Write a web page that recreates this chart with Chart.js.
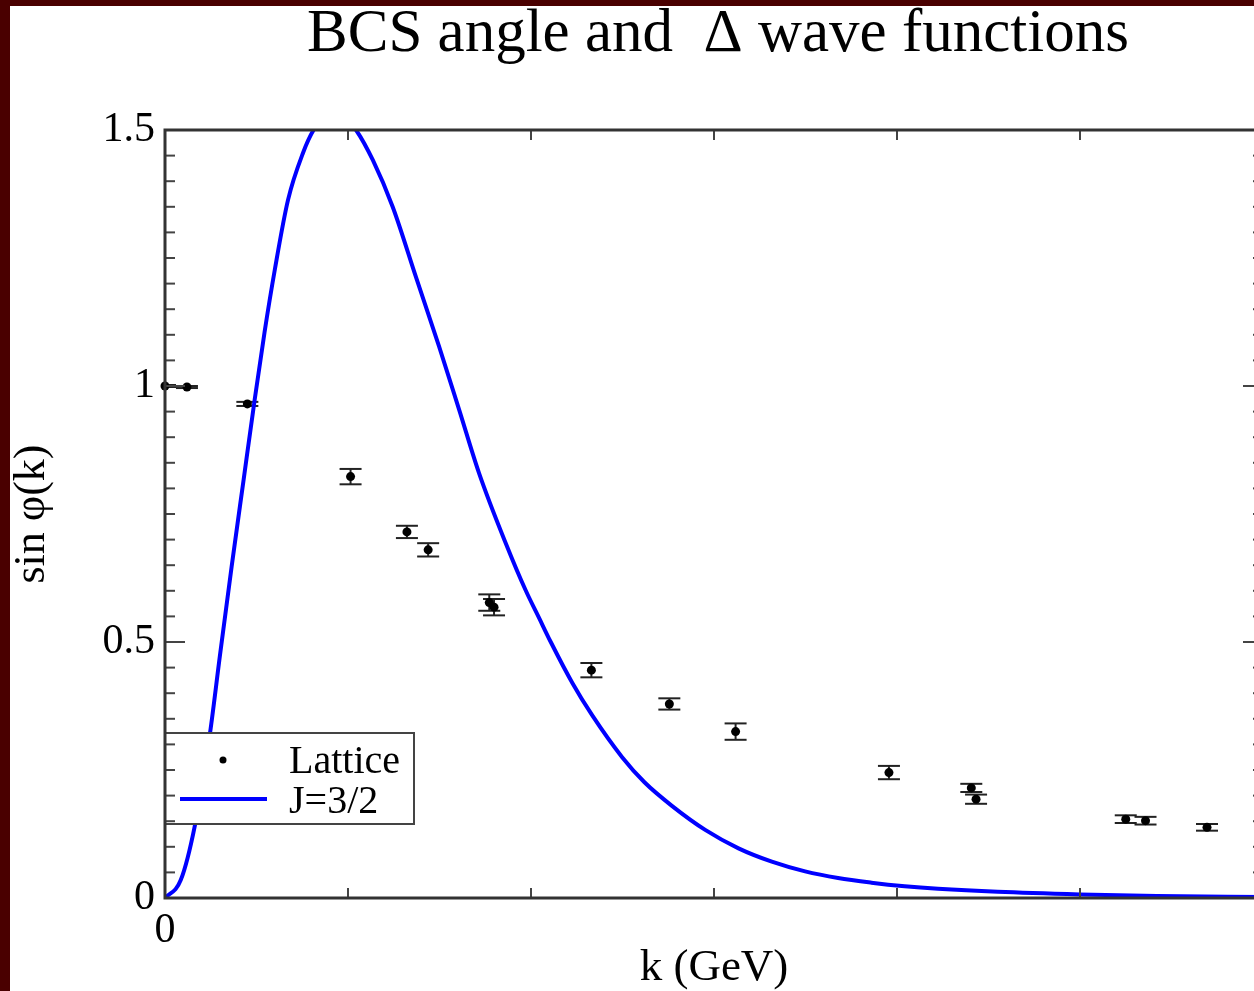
<!DOCTYPE html>
<html>
<head>
<meta charset="utf-8">
<script src="https://cdn.jsdelivr.net/npm/chart.js@4.4.1/dist/chart.umd.min.js"></script>
<style>
    html, body { margin: 0; padding: 0; width: 1254px; height: 991px; overflow: hidden; background: #4a0000; }
    #quadro { position: absolute; left: 10px; top: 6px; width: 1262px; height: 985px; background: #fff; }
    canvas { display: block; }
</style>
</head>
<body>
<div id="quadro"><canvas id="grafico" width="1262" height="985"></canvas></div>
<script>
// Dados da rede (Lattice) com barras de erro
const latticeK   = [0.0, 0.06, 0.225, 0.507, 0.661, 0.719, 0.886, 0.899, 1.165, 1.378, 1.559, 1.978, 2.203, 2.216, 2.625, 2.679, 2.847];
const latticeSin = [1.0, 0.998, 0.965, 0.823, 0.715, 0.680, 0.577, 0.568, 0.445, 0.379, 0.325, 0.245, 0.215, 0.193, 0.154, 0.151, 0.138];
const latticeErr = [0.002, 0.002, 0.004, 0.015, 0.012, 0.013, 0.016, 0.016, 0.014, 0.011, 0.016, 0.013, 0.008, 0.009, 0.0075, 0.0075, 0.0065];

// Curva J=3/2
const curvaK   = [0, 0.043, 0.082, 0.123, 0.15, 0.182, 0.215, 0.245, 0.272, 0.300, 0.336, 0.377, 0.406, 0.436, 0.463, 0.490, 0.522, 0.568, 0.622, 0.686, 0.749, 0.804, 0.858, 0.931, 0.986, 1.022, 1.054, 1.113, 1.167, 1.249, 1.31, 1.385, 1.476, 1.567, 1.658, 1.749, 1.839, 1.930, 2.021, 2.112, 2.275, 2.5, 2.71, 3.0];
const curvaSin = [0, 0.035, 0.143, 0.322, 0.473, 0.647, 0.818, 0.973, 1.105, 1.227, 1.363, 1.455, 1.500, 1.522, 1.535, 1.525, 1.500, 1.441, 1.350, 1.212, 1.077, 0.953, 0.830, 0.693, 0.600, 0.547, 0.500, 0.420, 0.357, 0.275, 0.226, 0.180, 0.133, 0.097, 0.071, 0.052, 0.039, 0.030, 0.023, 0.018, 0.012, 0.007, 0.004, 0.002];

const eixoY = { min: 0, max: 1.5, passo: 0.5, menor: 0.05 };
const eixoX = { min: 0, max: 3, passo: 0.5 };

const fonte = "'Liberation Serif', 'Times New Roman', serif";

function linha(ctx, x1, y1, x2, y2) {
    ctx.beginPath();
    ctx.moveTo(x1, y1);
    ctx.lineTo(x2, y2);
    ctx.stroke();
}

const molduraPlugin = {
    id: "moldura",
    beforeDatasetsDraw(chart) {
        // barras de erro
        const { ctx, chartArea } = chart;
        const sx = chart.scales.x, sy = chart.scales.y;
        ctx.save();
        ctx.beginPath();
        ctx.rect(chartArea.left, chartArea.top, chartArea.right - chartArea.left, chartArea.bottom - chartArea.top);
        ctx.clip();
        ctx.strokeStyle = "#222";
        ctx.lineWidth = 2;
        latticeK.forEach((k, i) => {
            const px = sx.getPixelForValue(k);
            const y1 = sy.getPixelForValue(latticeSin[i] - latticeErr[i]);
            const y2 = sy.getPixelForValue(latticeSin[i] + latticeErr[i]);
            linha(ctx, px, y1, px, y2);
            linha(ctx, px - 11, y1, px + 11, y1);
            linha(ctx, px - 11, y2, px + 11, y2);
        });
        ctx.restore();
    },
    afterDatasetsDraw(chart) {
        const { ctx, chartArea } = chart;
        const { left, right, top, bottom } = chartArea;
        const sx = chart.scales.x, sy = chart.scales.y;
        ctx.save();

        // legenda
        const lx = left, ly = bottom - 165, lw = 249, lh = 91;
        ctx.fillStyle = "#fff";
        ctx.fillRect(lx, ly, lw, lh);
        ctx.strokeStyle = "#444";
        ctx.lineWidth = 2;
        ctx.strokeRect(lx, ly, lw, lh);
        ctx.fillStyle = "#000";
        ctx.beginPath();
        ctx.arc(lx + 58, ly + 27, 3.5, 0, Math.PI * 2);
        ctx.fill();
        ctx.strokeStyle = "#0000ff";
        ctx.lineWidth = 4;
        linha(ctx, lx + 15, ly + 66, lx + 102, ly + 66);
        ctx.font = `40px ${fonte}`;
        ctx.textBaseline = "alphabetic";
        ctx.textAlign = "left";
        ctx.fillText(chart.data.datasets[0].label, lx + 124, ly + 40);
        ctx.fillText(chart.data.datasets[1].label, lx + 124, ly + 80);

        // moldura e ticks para dentro
        ctx.strokeStyle = "#444";
        ctx.lineWidth = 2;
        const n = Math.round((eixoY.max - eixoY.min) / eixoY.menor);
        for (let i = 0; i <= n; i++) {
            const v = eixoY.min + i * eixoY.menor;
            const py = sy.getPixelForValue(v);
            const len = (i % 10 === 0) ? 20 : 10;
            linha(ctx, left, py, left + len, py);
            linha(ctx, right, py, right - len, py);
        }
        sx.ticks.forEach(t => {
            const px = sx.getPixelForValue(t.value);
            linha(ctx, px, bottom, px, bottom - 10);
            linha(ctx, px, top, px, top + 10);
        });
        ctx.strokeStyle = "#333";
        ctx.lineWidth = 3;
        ctx.strokeRect(left, top, right - left, bottom - top);

        // título
        ctx.fillStyle = "#000";
        ctx.font = `61px ${fonte}`;
        ctx.textAlign = "center";
        ctx.fillText("BCS angle and  \u0394 wave functions", (left + right) / 2 + 4, 45);
        ctx.restore();
    }
};

const ctx = document.getElementById("grafico").getContext("2d");

new Chart(ctx, {
    type: "scatter",
    data: {
        datasets: [{
            label: "Lattice",
            data: latticeK.map((k, i) => ({ x: k, y: latticeSin[i] })),
            pointRadius: 4.5,
            pointBackgroundColor: "#000",
            pointBorderWidth: 0,
            showLine: false,
            clip: false,
            order: 1
        }, {
            label: "J=3/2",
            data: curvaK.map((k, i) => ({ x: k, y: curvaSin[i] })),
            showLine: true,
            pointRadius: 0,
            borderColor: "#0000ff",
            borderWidth: 4,
            cubicInterpolationMode: "monotone",
            order: 0
        }]
    },
    plugins: [molduraPlugin],
    options: {
        responsive: false,
        animation: false,
        devicePixelRatio: 1,
        layout: { padding: { left: 0, top: 124, right: 9, bottom: 0 } },
        plugins: {
            legend: { display: false },
            tooltip: { enabled: false }
        },
        scales: {
            x: {
                type: "linear",
                min: eixoX.min,
                max: eixoX.max,
                border: { display: false },
                grid: { display: false, drawTicks: false },
                ticks: {
                    stepSize: eixoX.passo,
                    color: "#000",
                    padding: 8,
                    font: { family: fonte, size: 42 },
                    callback: v => (v === 0 ? "0" : "")
                },
                title: {
                    display: true,
                    text: "k (GeV)",
                    color: "#000",
                    padding: { top: 0, bottom: -4 },
                    font: { family: fonte, size: 45 }
                },
                afterFit: s => { s.height = 93; }
            },
            y: {
                type: "linear",
                min: eixoY.min,
                max: eixoY.max,
                border: { display: false },
                grid: { display: false, drawTicks: false },
                ticks: {
                    stepSize: eixoY.passo,
                    color: "#000",
                    padding: 10,
                    font: { family: fonte, size: 42 },
                    callback: v => String(v)
                },
                title: {
                    display: true,
                    text: "sin \u03c6(k)",
                    color: "#000",
                    padding: { top: 0, bottom: 0 },
                    font: { family: fonte, size: 44, lineHeight: 1 }
                },
                afterFit: s => { s.width = 155; }
            }
        }
    }
});
</script>
</body>
</html>
